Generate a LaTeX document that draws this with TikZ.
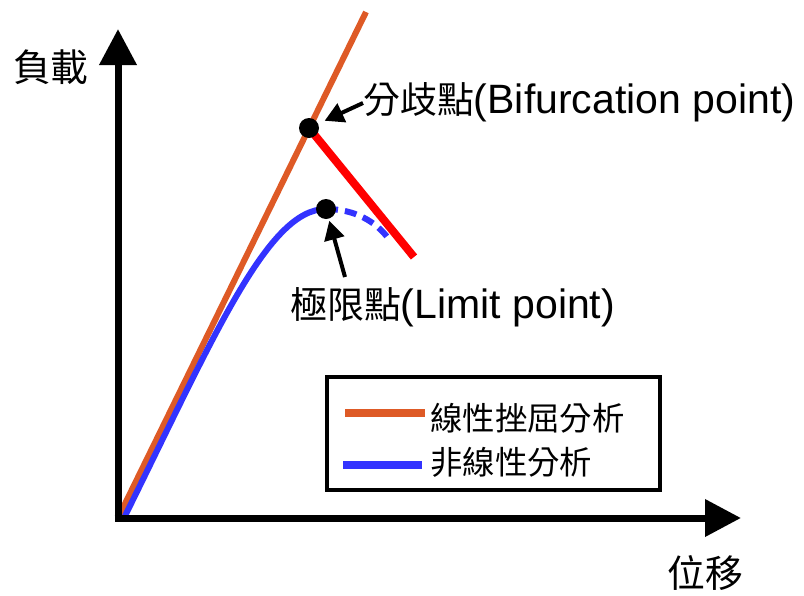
\documentclass[tikz,border=0pt]{standalone}
\usepackage{fontspec}
\setmainfont{Liberation Sans}
\newfontfamily\cjk[Scale=0.9]{Noto Sans CJK TC}
\usetikzlibrary{arrows.meta,positioning}

\definecolor{linorange}{RGB}{222,90,38}
\definecolor{nlblue}{RGB}{51,51,255}
\definecolor{bifred}{RGB}{255,0,0}

\tikzset{
  axis/.style={line width=7pt,-{Triangle[length=36pt,width=36pt]}},
  pointer/.style={line width=4pt,-{Triangle[length=19pt,width=20pt]}},
  blackdot/.style={circle,fill=black,inner sep=0pt,minimum size=20pt},
  txt/.style={inner sep=0pt,font=\fontsize{41}{50}\selectfont},
  cjktxt/.style={inner sep=0pt,font=\fontsize{42}{50}\selectfont\cjk},
  legtext/.style={inner sep=0pt,font=\fontsize{36}{42}\selectfont\cjk},
}

\begin{document}
\begin{tikzpicture}[x=1pt,y=-1pt]
\useasboundingbox (0,0) rectangle (804,595);

% Puntos
\coordinate (O) at (118,518);
\coordinate (ytip) at (118,29);
\coordinate (xtip) at (741,518);
\coordinate (ltop) at (366,12);
\coordinate (nlstart) at (124,518);
\coordinate (bifpt) at (309,128);
\coordinate (bifend) at (414,257);
\coordinate (limpt) at (326,209);
\coordinate (limend) at (388,238);

% Curvas
\draw[linorange,line width=6pt] (O) -- (ltop);
\draw[bifred,line width=8pt] (bifpt) -- (bifend);
\draw[nlblue,line width=6pt] (nlstart) .. controls (215,334) and (268,209) .. (limpt);
\draw[nlblue,line width=6pt,dash pattern=on 12pt off 7pt] (limpt) .. controls (355,209) and (376,222) .. (limend);

% Ejes
\draw[axis] ([yshift=-3.5pt]O) -- (ytip);
\draw[axis] ([xshift=-3.5pt]O) -- (xtip);
\node[cjktxt] (load) at (51,67) {負載};
\node[cjktxt] (disp) at (705,573) {位移};

% Puntos criticos
\node[blackdot] (bif) at (bifpt) {};
\node[blackdot] (lim) at (limpt) {};

% Etiquetas
\node[txt,anchor=base west] (biftext) at (363,113) {{\cjk 分歧點}(Bifurcation point)};
\node[txt,anchor=base west] (limtext) at (290,318) {{\cjk 極限點}(Limit point)};
\coordinate (bifarrow) at (363,103);
\coordinate (limarrow) at (345,277);
\draw[pointer,shorten >=7pt] (bifarrow) -- (bif);
\draw[pointer,shorten >=2pt] (limarrow) -- (lim);

% Leyenda
\node[draw,line width=4pt,minimum width=333pt,minimum height=113pt,inner sep=0pt] (legend) at (493.5,433.5) {};
\node[legtext,anchor=west] (leg1) at (430,418) {線性挫屈分析};
\node[legtext,anchor=west] (leg2) at (430,462) {非線性分析};
\coordinate (leg1a) at (345,413);
\coordinate (leg1b) at (425,413);
\coordinate (leg2a) at (343,465);
\coordinate (leg2b) at (422,465);
\draw[linorange,line width=8pt] (leg1a) -- (leg1b);
\draw[nlblue,line width=8pt] (leg2a) -- (leg2b);
\end{tikzpicture}
\end{document}
